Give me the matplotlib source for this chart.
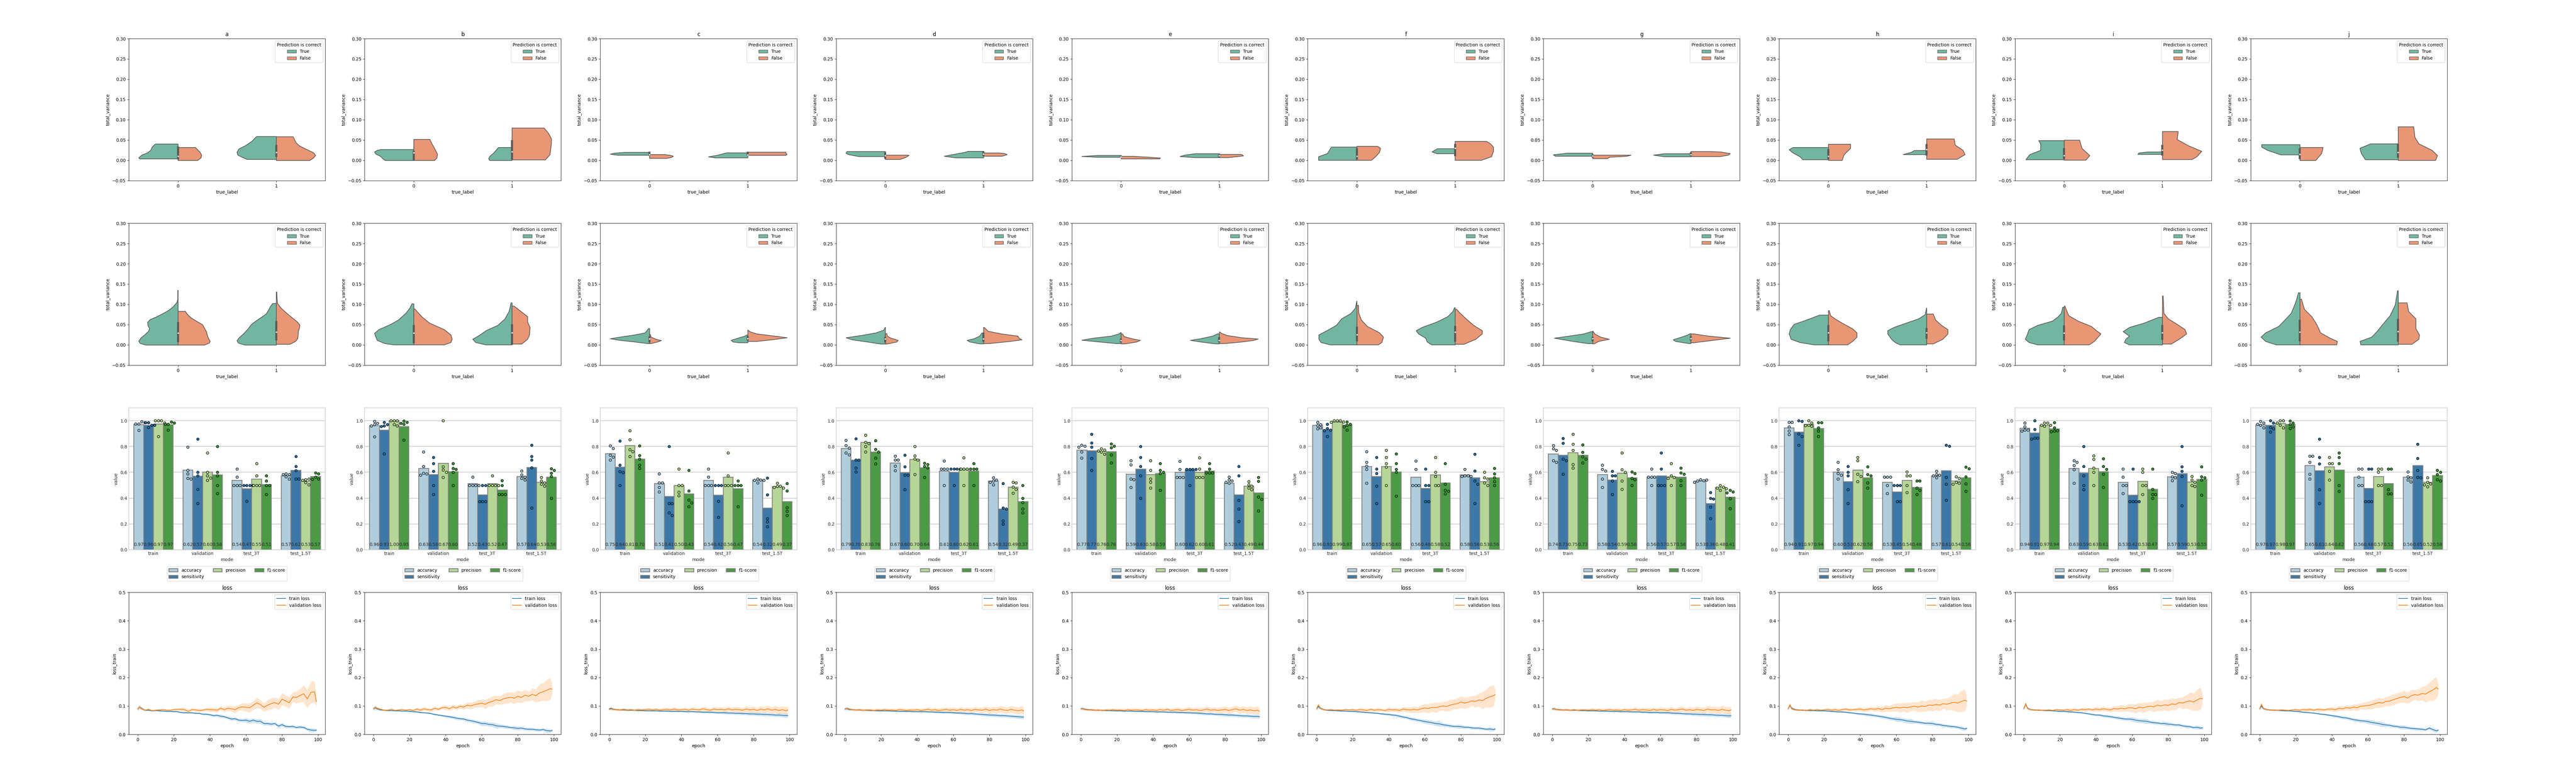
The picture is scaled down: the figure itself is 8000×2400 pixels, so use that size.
import matplotlib
matplotlib.use('Agg')
import matplotlib.pyplot as plt
from matplotlib.patches import Patch
import numpy as np

panel_names = ['a', 'b', 'c', 'd', 'e', 'f', 'g', 'h', 'i', 'j']
modes = ['train', 'validation', 'test_3T', 'test_1.5T']
metrics = ['accuracy', 'sensitivity', 'precision', 'f1-score']

# violin profiles: [levels, half widths] for 0/True, 0/False, 1/True, 1/False
top_a = [[[.004, .0066, .0134, .0189, .0243, .0325, .038, .0405], [.39, .40, .368, .31, .28, .265, .243, .23]],
         [[0, .0066, .0134, .0202, .0285, .032], [.198, .234, .24, .223, .19, .176]],
         [[.0027, .0079, .0134, .0202, .0285, .0366, .0476, .0544, .059], [.296, .347, .392, .40, .38, .313, .246, .22, .20]],
         [[0, .0066, .0126, .0189, .0285, .0366, .0448, .0585], [.34, .38, .40, .38, .298, .231, .198, .172]]]
top_b = [[[0, .0037, .0103, .0156, .021, .025, .027], [.29, .313, .339, .385, .40, .37, .332]],
         [[0, .0064, .0156, .0275, .0408, .052], [.21, .235, .241, .216, .185, .163]],
         [[0, .0037, .0103, .018, .025, .032], [.226, .238, .226, .188, .163, .138]],
         [[.0016, .0143, .0408, .054, .0672, .08], [.339, .386, .40, .40, .37, .326]]]
top_c = [[[.013, .0156, .018, .02], [.327, .40, .358, .248]],
         [[.0053, .0077, .0103, .013, .0146], [.176, .223, .242, .208, .145]],
         [[.0066, .009, .013, .0188], [.336, .40, .305, .217]],
         [[.0127, .0156, .017, .0204], [.387, .40, .387, .387]]]
top_d = [[[.0098, .0125, .015, .018, .022], [.27, .33, .38, .40, .39]],
         [[.0026, .008, .0124, .0132], [.15, .21, .24, .23]],
         [[.0066, .0106, .0146, .02, .0225], [.29, .40, .31, .19, .157]],
         [[.0106, .0146, .0172, .0185], [.19, .24, .21, .16]]]
top_e = [[[.008, .010, .0124], [.24, .40, .24]],
         [[.004, .006, .008, .0103], [.39, .40, .28, .125]],
         [[.0071, .0098, .0132, .0167], [.25, .40, .35, .25]],
         [[.0071, .0114, .015], [.09, .245, .225]]]
top_f = [[[.0005, .0093, .017, .025, .033], [.39, .39, .30, .28, .26]],
         [[.0005, .0093, .02, .03, .035], [.147, .19, .23, .24, .21]],
         [[.0167, .021, .0257, .029], [.18, .235, .205, .18]],
         [[.0005, .0093, .0225, .033, .041, .047], [.266, .37, .39, .39, .36, .32]]]
top_g = [[[.0106, .014, .017, .018], [.38, .40, .29, .27]],
         [[.0045, .008, .0106, .0132], [.15, .17, .35, .39]],
         [[.0093, .0132, .0167], [.27, .38, .27]],
         [[.0098, .0132, .017, .021, .022], [.30, .38, .40, .30, .20]]]
top_h = [[[.002, .0093, .0185, .0265, .032], [.26, .29, .36, .40, .36]],
         [[.0003, .0146, .03, .04], [.14, .16, .225, .225]],
         [[.0146, .02, .0246], [.24, .157, .125]],
         [[.003, .0146, .025, .038, .053], [.31, .39, .37, .29, .28]]]
top_i = [[[.002, .0146, .025, .041, .049], [.39, .35, .24, .24, .26]],
         [[.0008, .012, .03, .05], [.22, .26, .18, .157]],
         [[.015, .0185, .021], [.25, .24, .145]],
         [[.0024, .0093, .0225, .0357, .0516, .0714], [.30, .35, .40, .27, .15, .16]]]
top_j = [[[.014, .025, .033, .039], [.195, .33, .39, .39]],
         [[0, .017, .032], [.16, .22, .235]],
         [[.002, .017, .03, .041], [.335, .375, .39, .28]],
         [[.0003, .012, .025, .041, .057, .083], [.38, .40, .345, .21, .17, .157]]]

mid_a = [[[0, .004, .0093, .0175, .0257, .034, .0407, .0476, .0558, .0626, .0695, .079, .0859, .094, .105, .113, .135],
          [.327, .385, .40, .377, .335, .30, .29, .306, .31, .285, .218, .142, .092, .05, .012, .003, .003]],
         [[0, .005, .0093, .016, .0257, .0325, .042, .05, .057, .0667, .0763, .083],
          [.268, .318, .327, .31, .296, .29, .268, .25, .20, .134, .092, .075]],
         [[0, .005, .0107, .0175, .0284, .0394, .0503, .057, .0667, .0763, .086, .094, .1025],
          [.32, .386, .40, .38, .33, .288, .255, .22, .162, .104, .079, .062, .037]],
         [[.002, .0093, .016, .0257, .0325, .042, .049, .057, .0667, .0804, .0913, .1023, .113, .131],
          [.14, .197, .218, .223, .223, .236, .24, .214, .164, .097, .047, .013, .008, .005]]]
mid_b = [[[.0005, .0037, .0116, .0288, .038, .051, .062, .078, .091, .1016], [.20, .294, .373, .40, .355, .234, .155, .082, .04, .02]],
         [[.0005, .0063, .0143, .0249, .038, .054, .07, .089], [.31, .377, .39, .377, .31, .16, .08, .01]],
         [[.0005, .0063, .0143, .0249, .0354, .0487, .0645, .083, .104], [.265, .37, .40, .325, .265, .144, .072, .03, .01]],
         [[.0026, .0143, .0249, .0434, .0566, .07, .078, .096], [.098, .158, .177, .183, .158, .158, .116, .02]]]
mid_c = [[[.0037, .0077, .0116, .0156, .0196, .025, .03, .0407], [.02, .15, .30, .40, .30, .15, .045, .01]],
         [[.0037, .0077, .011, .0143, .0196, .026], [.015, .08, .12, .065, .015, .008]],
         [[.0058, .0077, .0116, .017, .022, .025], [.09, .15, .17, .10, .03, .01]],
         [[.009, .013, .018, .022, .0275, .033, .0368], [.09, .245, .40, .275, .09, .02, .002]]]
mid_d = [[[.0026, .0077, .013, .018, .0235, .03, .0368, .0434], [.045, .185, .337, .40, .245, .095, .015, .003]],
         [[.0026, .0077, .0116, .017, .022, .028], [.015, .117, .13, .057, .02, .015]],
         [[.003, .0077, .0116, .0156, .022, .03], [.035, .14, .167, .096, .04, .017]],
         [[.0037, .009, .013, .017, .022, .0275, .034, .0434], [.055, .27, .39, .36, .35, .18, .045, .007]]]
mid_e = [[[.0037, .0077, .012, .017, .022, .0275, .031], [.05, .22, .40, .28, .10, .02, .003]],
         [[.003, .0077, .0116, .0156, .021, .0275], [.04, .16, .195, .11, .03, .014]],
         [[.003, .0077, .0116, .0156, .022, .0275], [.04, .19, .295, .19, .07, .017]],
         [[.0037, .0077, .0116, .0148, .018, .0235, .029, .032], [.05, .23, .35, .395, .23, .08, .02, .007]]]
mid_f = [[[.0005, .0063, .0143, .025, .0354, .0487, .0645, .078, .091, .108], [.27, .365, .387, .387, .305, .208, .156, .06, .015, .002]],
         [[.0005, .0063, .0196, .03, .046, .062, .078, .098], [.217, .254, .27, .232, .105, .045, .02, .015]],
         [[.0005, .0077, .017, .0275, .0354, .0434, .0566, .07, .083, .092], [.239, .284, .30, .373, .396, .336, .187, .075, .022, .007]],
         [[.002, .0143, .0275, .0354, .0487, .0645, .078, .088], [.09, .21, .276, .276, .187, .112, .052, .015]]]
mid_g = [[[.0037, .009, .017, .022, .0275, .033], [.05, .20, .39, .24, .09, .015]],
         [[.003, .009, .0143, .0196, .0275, .034], [.015, .06, .17, .08, .02, .005]],
         [[.0037, .009, .013, .0196, .025, .028], [.02, .155, .18, .095, .03, .007]],
         [[.0058, .0103, .017, .022, .0275], [.03, .18, .40, .18, .03]]]
mid_h = [[[.0005, .0063, .0143, .0275, .038, .051, .059, .067, .0738], [.142, .29, .38, .40, .388, .35, .254, .164, .09]],
         [[.0005, .009, .0196, .03, .04, .054, .0645, .0725, .085], [.194, .246, .29, .29, .246, .14, .067, .022, .007]],
         [[.0005, .0063, .0143, .0275, .0354, .043, .054, .0645, .075, .091], [.27, .32, .358, .396, .396, .336, .21, .082, .015, .002]],
         [[.003, .0143, .0275, .038, .0487, .062, .0765], [.067, .164, .216, .216, .15, .09, .067]]]
mid_i = [[[.0005, .0063, .0143, .0275, .038, .0487, .059, .07, .078, .093], [.268, .358, .396, .373, .358, .268, .12, .06, .03, .015]],
         [[.0005, .009, .017, .0275, .0354, .046, .059, .0725, .096], [.254, .306, .336, .373, .328, .276, .142, .045, .007]],
         [[.0005, .0063, .0143, .022, .033, .0434, .054, .0685], [.336, .388, .373, .336, .40, .336, .187, .037]],
         [[.0026, .0143, .0275, .038, .051, .0645, .078, .121], [.09, .17, .246, .23, .15, .06, .015, .007]]]
mid_j = [[[.0005, .009, .0196, .03, .046, .059, .078, .104, .129], [.24, .35, .396, .35, .216, .164, .09, .045, .015]],
         [[.0005, .009, .017, .03, .051, .07, .088, .113], [.373, .38, .306, .21, .17, .12, .045, .015]],
         [[.0005, .009, .0196, .033, .051, .0725, .099, .134], [.38, .388, .27, .216, .157, .082, .03, .007]],
         [[.002, .0143, .025, .04, .0645, .083, .104], [.14, .21, .216, .18, .18, .105, .09]]]

# inner box: (q1, median, q3) for label 0 and label 1
top_box = [[(.002, .010, .034), (.009, .020, .038)], [(0, .019, .024), (.002, .021, .050)],
           [(.011, .014, .021), (.011, .013, .021)], [(.004, .012, .020), (.010, .016, .022)],
           [(.007, .009, .012), (.008, .012, .015)], [(.002, .010, .030), (.010, .030, .040)],
           [(.007, .011, .015), (.010, .014, .020)], [(.003, .010, .028), (.012, .027, .040)],
           [(.003, .012, .030), (.012, .025, .038)], [(.003, .015, .030), (.006, .020, .040)]]
mid_box = [[(.007, .029, .056), (.0107, .032, .0585)], [(.004, .029, .049), (.001, .030, .051)],
           [(.006, .015, .021), (.011, .016, .022)], [(.006, .015, .020), (.008, .015, .030)],
           [(.006, .011, .016), (.006, .011, .019)], [(.009, .025, .045), (.008, .032, .047)],
           [(.009, .016, .020), (.011, .016, .021)], [(.009, .030, .049), (.015, .030, .042)],
           [(.011, .029, .048), (.013, .030, .049)], [(.009, .032, .062), (.008, .033, .064)]]

top_profiles = [top_a, top_b, top_c, top_d, top_e, top_f, top_g, top_h, top_i, top_j]
mid_profiles = [mid_a, mid_b, mid_c, mid_d, mid_e, mid_f, mid_g, mid_h, mid_i, mid_j]

# bar heights, four metrics for each of the four modes
bars_a = [.970, .965, .975, .970, .618, .571, .604, .582, .540, .474, .549, .506, .574, .616, .531, .568]
bars_b = [.963, .928, 1.0, .955, .631, .583, .672, .605, .515, .426, .515, .465, .570, .638, .525, .565]
bars_c = [.747, .640, .808, .704, .513, .414, .500, .433, .540, .424, .564, .474, .541, .324, .491, .373]
bars_d = [.787, .697, .834, .758, .674, .598, .702, .637, .612, .601, .623, .610, .535, .316, .487, .373]
bars_e = [.774, .769, .764, .760, .587, .626, .583, .591, .602, .619, .600, .612, .516, .426, .493, .441]
bars_f = [.965, .933, .990, .968, .645, .570, .645, .604, .565, .476, .581, .520, .581, .558, .530, .560]
bars_g = [.743, .733, .754, .733, .585, .541, .594, .558, .562, .574, .567, .563, .533, .360, .483, .408]
bars_h = [.945, .914, .972, .941, .604, .529, .619, .558, .525, .450, .539, .485, .575, .614, .535, .558]
bars_i = [.943, .906, .966, .939, .631, .595, .631, .606, .525, .424, .531, .469, .566, .591, .527, .547]
bars_j = [.968, .966, .981, .972, .654, .614, .644, .619, .564, .476, .570, .515, .564, .654, .524, .576]

dots_a = [[.975, .992, .975, .985, .926], [.985, .966, .985, .966, .948], [1, 1, 1, .983, .878], [.974, .991, .973, .984, .928],
          [.795, .615, .588, .553, .55], [.858, .601, .573, .468, .359], [.752, .601, .573, .557, .54], [.80, .60, .573, .50, .436],
          [.626, .564, .50, .50, .50], [.50, .50, .50, .50, .377], [.668, .573, .50, .50, .50], [.573, .535, .50, .50, .43],
          [.59, .585, .585, .566, .55], [.724, .646, .614, .55, .55], [.545, .55, .538, .521, .504], [.595, .588, .564, .55, .547]]
dots_b = [[.995, .98, .97, .96, .876], [.987, .97, .96, .955, .743], [1, 1, 1, .97, .96], [.999, .989, .98, .974, .852],
          [.759, .647, .594, .588, .579], [.715, .669, .608, .50, .429], [1, .643, .619, .60, .562], [.669, .631, .623, .602, .50],
          [.565, .50, .50, .50, .50], [.50, .50, .375, .375, .375], [.573, .50, .50, .50, .50], [.537, .50, .429, .429, .429],
          [.611, .581, .565, .554, .541], [.812, .724, .697, .637, .325], [.561, .533, .52, .508, .495], [.629, .616, .594, .57, .40]]
dots_c = [[.807, .785, .734, .718, .696], [.843, .656, .605, .598, .50], [.923, .854, .775, .761, .724], [.807, .73, .704, .655, .631],
          [.588, .519, .518, .485, .45], [.80, .359, .359, .288, .268], [.626, .50, .50, .446, .418], [.617, .456, .387, .365, .335],
          [.626, .564, .50, .50, .50], [.50, .50, .50, .377, .252], [.752, .573, .50, .50, .50], [.535, .50, .50, .50, .335],
          [.549, .542, .54, .538, .52], [.557, .426, .242, .216, .18], [.516, .495, .491, .484, .478], [.515, .457, .326, .299, .266]]
dots_d = [[.849, .808, .789, .751, .737], [.86, .695, .695, .634, .604], [.889, .833, .824, .80, .758], [.845, .779, .758, .712, .666],
          [.726, .695, .695, .649, .614], [.733, .644, .579, .579, .466], [.80, .729, .704, .695, .583], [.67, .662, .645, .637, .561],
          [.689, .626, .626, .626, .50], [.626, .626, .626, .626, .50], [.714, .626, .626, .626, .50], [.668, .626, .626, .626, .50],
          [.558, .541, .533, .525, .504], [.514, .325, .318, .225, .20], [.525, .52, .487, .47, .44], [.50, .40, .366, .316, .287]]
dots_e = [[.812, .803, .795, .758, .712], [.895, .828, .795, .708, .616], [.783, .774, .766, .758, .741], [.82, .803, .791, .737, .674],
          [.691, .658, .55, .545, .483], [.80, .716, .645, .575, .40], [.691, .616, .55, .525, .479], [.668, .616, .60, .591, .462],
          [.687, .624, .562, .562, .562], [.624, .624, .624, .624, .50], [.714, .626, .562, .562, .562], [.668, .626, .595, .595, .595],
          [.565, .541, .533, .525, .516], [.645, .573, .383, .316, .22], [.529, .504, .495, .479, .466], [.562, .531, .408, .391, .301]]
dots_f = [[.987, .97, .962, .945, .937], [.974, .941, .928, .924, .878], [1, 1, 1, .99, .987], [.99, .974, .966, .953, .928],
          [.76, .679, .649, .624, .516], [.716, .627, .591, .495, .358], [.77, .716, .668, .641, .50], [.743, .668, .624, .60, .416],
          [.689, .624, .50, .50, .50], [.626, .50, .50, .375, .375], [.716, .60, .57, .50, .50], [.668, .51, .462, .454, .433],
          [.624, .575, .575, .57, .57], [.741, .612, .533, .51, .358], [.60, .56, .55, .52, .50], [.63, .59, .56, .53, .50]]
dots_g = [[.808, .783, .77, .691, .679], [.864, .826, .704, .691, .587], [.895, .818, .77, .662, .633], [.814, .756, .72, .704, .674],
          [.656, .624, .612, .55, .485], [.608, .573, .573, .533, .429], [.751, .62, .60, .533, .47], [.604, .591, .554, .545, .50],
          [.626, .565, .565, .565, .50], [.751, .626, .50, .50, .50], [.668, .575, .562, .554, .50], [.633, .595, .587, .537, .50],
          [.545, .537, .533, .541, .525], [.445, .40, .393, .331, .241], [.498, .487, .479, .475, .462], [.462, .45, .441, .396, .32]]
dots_h = [[.989, .989, .953, .92, .893], [1, .995, .898, .878, .812], [1, .983, .966, .962, .958], [.985, .985, .945, .92, .878],
          [.679, .62, .591, .579, .55], [.645, .601, .573, .466, .358], [.716, .691, .587, .57, .529], [.644, .583, .575, .52, .479],
          [.565, .565, .565, .50, .437], [.50, .50, .50, .375, .375], [.604, .573, .573, .50, .443], [.535, .535, .479, .462, .429],
          [.608, .583, .579, .575, .558], [.812, .803, .562, .508, .383], [.566, .554, .525, .516, .508], [.641, .629, .566, .512, .454]]
dots_i = [[.984, .953, .928, .928, .92], [1, .933, .866, .866, .858], [.982, .982, .966, .966, .958], [.985, .945, .924, .92, .916],
          [.691, .679, .654, .62, .516], [.80, .645, .573, .50, .466], [.729, .701, .633, .60, .50], [.706, .645, .624, .587, .483],
          [.626, .565, .50, .50, .437], [.626, .375, .375, .375, .375], [.626, .60, .50, .50, .429], [.626, .47, .429, .429, .40],
          [.60, .591, .566, .558, .537], [.80, .644, .608, .57, .341], [.57, .541, .525, .50, .491], [.644, .566, .558, .541, .425]]
dots_j = [[.995, .983, .974, .966, .945], [1, .983, .949, .937, .914], [1, 1, .983, .966, .945], [.997, .982, .97, .953, .941],
          [.726, .726, .679, .587, .55], [.858, .716, .666, .466, .358], [.716, .668, .668, .608, .541], [.751, .716, .668, .50, .454],
          [.626, .626, .565, .50, .50], [.626, .626, .375, .375, .375], [.626, .626, .60, .50, .50], [.626, .626, .466, .433, .433],
          [.604, .566, .558, .541, .526], [.818, .708, .616, .562, .558], [.558, .525, .512, .504, .49], [.616, .60, .583, .545, .533]]

bar_heights = [bars_a, bars_b, bars_c, bars_d, bars_e, bars_f, bars_g, bars_h, bars_i, bars_j]
bar_dots = [dots_a, dots_b, dots_c, dots_d, dots_e, dots_f, dots_g, dots_h, dots_i, dots_j]

# loss curves in thousandths
epochs = [0, 1] + list(range(2, 100, 2)) + [99]
train_a = [90, 96, 92, 85, 85, 83, 84, 83, 82, 81, 81, 80, 80, 77, 76, 76, 76, 74, 74, 71, 71, 69, 66, 67, 64, 62, 58, 54, 55, 50, 49, 50, 46, 50, 46, 46, 38, 38, 36, 38, 29, 34, 28, 27, 28, 24, 26, 24, 18, 15, 14, 15]
val_a = [89, 96, 91, 85, 88, 83, 85, 86, 87, 85, 85, 87, 88, 88, 87, 81, 87, 86, 84, 85, 88, 87, 87, 85, 92, 87, 92, 90, 87, 94, 97, 95, 94, 102, 111, 105, 95, 103, 108, 112, 106, 124, 118, 111, 132, 130, 137, 143, 125, 148, 150, 115]
train_b = [90, 94, 90, 86, 85, 84, 84, 83, 83, 82, 82, 81, 80, 79, 77, 76, 75, 73, 70, 68, 66, 64, 62, 60, 57, 55, 54, 50, 48, 45, 42, 38, 38, 35, 34, 30, 29, 28, 26, 24, 23, 21, 22, 19, 18, 18, 16, 15, 17, 13, 12, 14]
val_b = [91, 95, 92, 88, 85, 85, 88, 84, 86, 87, 85, 87, 84, 89, 85, 90, 87, 86, 92, 88, 94, 95, 90, 97, 93, 99, 96, 103, 100, 105, 107, 110, 106, 113, 116, 122, 119, 125, 128, 131, 127, 134, 130, 138, 134, 141, 136, 146, 150, 155, 161, 159]
train_c = [90, 92, 89, 87, 86, 86, 85, 85, 85, 84, 84, 83, 83, 83, 83, 82, 82, 82, 81, 81, 81, 81, 80, 80, 80, 79, 79, 78, 78, 78, 77, 76, 76, 76, 75, 75, 74, 74, 73, 73, 72, 72, 71, 71, 70, 70, 69, 68, 68, 67, 66, 66]
val_c = [88, 90, 88, 87, 86, 88, 86, 87, 85, 87, 86, 87, 88, 86, 88, 85, 87, 88, 86, 89, 86, 87, 88, 85, 89, 87, 86, 90, 87, 85, 89, 87, 88, 86, 90, 86, 88, 87, 85, 89, 86, 88, 84, 89, 86, 90, 85, 88, 84, 87, 83, 86]
train_d = [90, 91, 88, 87, 86, 86, 85, 85, 84, 84, 83, 83, 83, 83, 82, 82, 81, 81, 81, 81, 80, 80, 80, 80, 79, 79, 78, 78, 77, 77, 77, 76, 75, 75, 74, 73, 73, 72, 71, 70, 69, 68, 68, 67, 66, 66, 65, 64, 63, 62, 61, 61]
val_d = [88, 92, 90, 87, 86, 87, 85, 86, 86, 84, 86, 85, 87, 85, 86, 84, 87, 86, 84, 86, 85, 87, 84, 86, 88, 85, 87, 84, 86, 88, 85, 87, 84, 88, 85, 87, 84, 88, 86, 85, 89, 84, 87, 85, 89, 86, 84, 88, 85, 83, 86, 82]
train_e = [90, 91, 89, 87, 86, 85, 85, 85, 84, 84, 83, 83, 83, 82, 82, 82, 81, 81, 81, 80, 80, 80, 79, 79, 79, 78, 78, 78, 77, 77, 76, 76, 75, 75, 74, 73, 72, 72, 71, 70, 70, 69, 68, 68, 67, 66, 65, 65, 64, 63, 63, 62]
val_e = [90, 90, 88, 86, 87, 85, 86, 84, 86, 85, 87, 85, 86, 84, 87, 85, 86, 86, 84, 87, 85, 86, 84, 87, 85, 88, 84, 86, 87, 84, 86, 88, 85, 87, 84, 86, 89, 85, 87, 84, 86, 88, 84, 87, 90, 85, 88, 84, 86, 83, 85, 81]
train_f = [90, 98, 92, 87, 85, 84, 84, 83, 82, 82, 81, 81, 80, 79, 78, 77, 76, 75, 74, 72, 71, 70, 68, 67, 64, 61, 59, 55, 53, 50, 48, 45, 43, 41, 38, 37, 34, 32, 30, 28, 28, 27, 25, 25, 23, 22, 22, 20, 18, 19, 17, 19]
val_f = [90, 104, 93, 87, 86, 87, 85, 86, 85, 87, 86, 87, 85, 87, 86, 84, 88, 85, 87, 86, 84, 88, 86, 87, 84, 89, 87, 86, 88, 86, 90, 93, 91, 95, 94, 97, 100, 98, 103, 106, 108, 114, 110, 113, 118, 116, 121, 119, 127, 132, 136, 140]
train_g = [90, 90, 88, 87, 86, 86, 85, 85, 85, 84, 84, 83, 83, 83, 82, 82, 82, 81, 81, 81, 80, 80, 80, 79, 79, 79, 78, 78, 77, 77, 77, 76, 76, 76, 75, 74, 74, 73, 72, 72, 71, 71, 70, 70, 69, 69, 68, 67, 67, 66, 65, 66]
val_g = [88, 91, 88, 86, 86, 87, 85, 87, 85, 86, 86, 85, 87, 85, 87, 84, 86, 87, 85, 86, 84, 87, 85, 86, 88, 85, 87, 86, 84, 88, 85, 87, 86, 84, 88, 85, 87, 89, 85, 87, 84, 88, 86, 84, 89, 86, 87, 84, 88, 85, 83, 86]
train_h = [90, 102, 92, 87, 86, 85, 85, 84, 84, 83, 83, 83, 82, 81, 80, 79, 79, 78, 76, 75, 73, 72, 71, 69, 68, 66, 64, 62, 60, 57, 55, 53, 52, 50, 47, 46, 44, 43, 41, 39, 39, 38, 35, 34, 31, 30, 28, 27, 25, 22, 19, 21]
val_h = [90, 104, 90, 86, 85, 86, 84, 87, 85, 87, 85, 86, 88, 85, 87, 84, 87, 89, 86, 87, 88, 89, 86, 88, 90, 88, 91, 87, 92, 90, 93, 95, 93, 96, 94, 97, 99, 96, 100, 98, 103, 102, 105, 103, 108, 106, 110, 113, 110, 116, 120, 117]
train_i = [92, 106, 92, 87, 86, 85, 85, 84, 84, 83, 82, 81, 81, 80, 79, 78, 77, 76, 74, 72, 70, 68, 68, 65, 64, 62, 60, 58, 56, 54, 54, 53, 50, 48, 47, 46, 43, 41, 40, 38, 38, 36, 35, 33, 33, 30, 28, 27, 24, 25, 22, 23]
val_i = [90, 108, 91, 87, 85, 86, 85, 85, 86, 84, 87, 86, 85, 87, 84, 87, 85, 88, 87, 89, 86, 89, 87, 90, 88, 86, 91, 89, 92, 90, 94, 93, 90, 96, 93, 97, 99, 97, 103, 100, 104, 102, 107, 105, 112, 110, 115, 118, 114, 121, 127, 125]
train_j = [90, 100, 91, 87, 86, 85, 85, 84, 83, 83, 82, 81, 80, 78, 77, 76, 75, 73, 71, 70, 68, 66, 64, 62, 59, 58, 55, 52, 50, 48, 47, 45, 42, 40, 38, 35, 33, 32, 29, 28, 25, 25, 23, 21, 20, 19, 18, 16, 22, 17, 12, 15]
val_j = [90, 106, 92, 87, 85, 86, 85, 86, 85, 84, 86, 87, 85, 87, 86, 88, 85, 88, 87, 86, 89, 89, 87, 92, 90, 94, 92, 96, 94, 99, 100, 102, 104, 108, 112, 110, 116, 117, 122, 126, 130, 133, 128, 136, 140, 138, 144, 142, 150, 156, 165, 159]
train_curves = [train_a, train_b, train_c, train_d, train_e, train_f, train_g, train_h, train_i, train_j]
val_curves = [val_a, val_b, val_c, val_d, val_e, val_f, val_g, val_h, val_i, val_j]

# half width of the shaded band
band_train_fast = [6, 8, 5, 3, 2, 2, 2, 3, 2, 2, 2, 3, 3, 3, 3, 2, 3, 3, 3, 3, 4, 4, 5, 5, 6, 5, 5, 6, 6, 6, 6, 8, 8, 7, 8, 9, 6, 6, 6, 5, 7, 7, 6, 5, 6, 5, 6, 5, 5, 7, 6, 5]
band_val_fast = [4, 6, 4, 3, 3, 4, 3, 4, 4, 4, 3, 4, 4, 6, 7, 7, 5, 6, 7, 5, 6, 8, 7, 8, 7, 8, 9, 10, 12, 10, 13, 14, 16, 15, 18, 15, 15, 18, 20, 18, 19, 21, 20, 20, 17, 21, 23, 30, 31, 38, 38, 18]
band_train_flat = [4, 6, 4, 3, 3, 2, 2, 2, 2, 2, 2, 2, 2, 2, 2, 2, 2, 3, 3, 3, 3, 3, 3, 3, 3, 3, 4, 4, 4, 4, 4, 4, 4, 5, 5, 5, 5, 5, 5, 5, 6, 6, 6, 6, 6, 6, 6, 6, 6, 7, 7, 7]
band_val_flat = [3, 4, 4, 4, 4, 5, 5, 4, 5, 5, 5, 6, 6, 6, 5, 6, 7, 6, 6, 7, 7, 6, 7, 7, 8, 7, 7, 8, 9, 7, 8, 9, 8, 9, 9, 8, 10, 9, 9, 10, 10, 11, 10, 11, 11, 12, 11, 12, 13, 12, 14, 13]
flat_panels = ['c', 'd', 'e', 'g']

violin_colors = ['#72b6a1', '#e99675']
violin_edge = '#595959'
bar_colors = ['#afcddc', '#3c78a8', '#b5d696', '#4b9a44']
dot_colors = ['#a6cee3', '#1f78b4', '#b2df8a', '#33a02c']


def draw_violins(ax, profiles, boxes):
    for i, (levels, widths) in enumerate(profiles):
        center = i // 2
        sign = -1 if i % 2 == 0 else 1
        x_edge = center + sign * np.array(widths)
        ax.fill_betweenx(levels, center, x_edge, facecolor=violin_colors[i % 2], edgecolor=violin_edge, linewidth=1.5)
    for center, (q1, med, q3) in enumerate(boxes):
        ax.plot([center, center], [q1, q3], color=violin_edge, linewidth=4.5, solid_capstyle='butt')
        ax.scatter([center], [med], s=5, color='white', zorder=3)
    ax.set_xticks([0, 1])
    ax.set_xlim(-0.5, 1.5)
    ax.set_ylim(-0.05, 0.30)
    ax.set_xlabel('true_label')
    ax.set_ylabel('total_variance')
    handles = [Patch(facecolor=violin_colors[0], edgecolor=violin_edge, label='True'),
               Patch(facecolor=violin_colors[1], edgecolor=violin_edge, label='False')]
    ax.legend(handles=handles, title='Prediction is correct', loc='upper right')


def swarm_offsets(ax, values, step=9.5):
    # spread dots that would sit on top of each other, in pixels
    p0 = ax.transData.transform((0, 0))
    p1 = ax.transData.transform((1, 1))
    px_x, px_y = p1 - p0
    placed = []
    for v in values:
        k = 0
        while True:
            off = ((k + 1) // 2) * step * (1 if k % 2 else -1)
            if all((off - a) ** 2 + ((v - b) * px_y) ** 2 >= step ** 2 for a, b in placed):
                break
            k += 1
        placed.append((off, v))
    return [a / px_x for a, b in placed]


def draw_bars(ax, heights, dots):
    ax.set_xlim(-0.5, 3.5)
    ax.set_ylim(0, 1.1)
    for spine in ax.spines.values():
        spine.set_color('.8')
        spine.set_linewidth(1.25)
    ax.grid(axis='y', color='.8', linewidth=1.5)
    ax.set_axisbelow(True)
    ax.tick_params(length=0, colors='.15')
    for i, h in enumerate(heights):
        group, m = i // 4, i % 4
        x = group + (m - 1.5) * 0.2
        ax.bar(x, h, width=0.2, color=bar_colors[m], edgecolor='#808080', linewidth=1.8,
               label=metrics[m] if group == 0 else None, zorder=2)
        ax.text(x, 0.04, '%.2f' % h, ha='center', va='center', color='.15', zorder=4)
        offs = swarm_offsets(ax, dots[i])
        ax.scatter(x + np.array(offs), dots[i], s=30, color=dot_colors[m], edgecolor='black', linewidth=1, zorder=3)
    ax.set_xticks(range(len(modes)))
    ax.set_xticklabels(modes)
    ax.set_xlabel('mode', color='.15')
    ax.set_ylabel('value', color='.15')
    ax.legend(loc='upper center', bbox_to_anchor=(0.5, -0.1), ncol=3)


def draw_loss(ax, train, val, band_train, band_val):
    x = np.array(epochs)
    train = np.array(train) / 1000
    val = np.array(val) / 1000
    ax.fill_between(x, train - np.array(band_train) / 1000, train + np.array(band_train) / 1000, color='C0', alpha=0.2, linewidth=0)
    ax.fill_between(x, val - np.array(band_val) / 1000, val + np.array(band_val) / 1000, color='C1', alpha=0.2, linewidth=0)
    ax.plot(x, train, color='C0', linewidth=1.5, label='train loss')
    ax.plot(x, val, color='C1', linewidth=1.5, label='validation loss')
    ax.set_ylim(0, 0.5)
    ax.set_title('loss')
    ax.set_xlabel('epoch')
    ax.set_ylabel('loss_train')
    ax.legend(loc='upper right')


fig, axes = plt.subplots(4, 10, figsize=(80, 24))
fig.subplots_adjust(left=0.05, right=0.95, top=0.95, bottom=0.05, wspace=0.2, hspace=0.3)

for c, name in enumerate(panel_names):
    draw_violins(axes[0, c], top_profiles[c], top_box[c])
    axes[0, c].set_title(name)
    draw_violins(axes[1, c], mid_profiles[c], mid_box[c])
    draw_bars(axes[2, c], bar_heights[c], bar_dots[c])
    if name in flat_panels:
        draw_loss(axes[3, c], train_curves[c], val_curves[c], band_train_flat, band_val_flat)
    else:
        draw_loss(axes[3, c], train_curves[c], val_curves[c], band_train_fast, band_val_fast)

plt.savefig('out.png', dpi=100)
